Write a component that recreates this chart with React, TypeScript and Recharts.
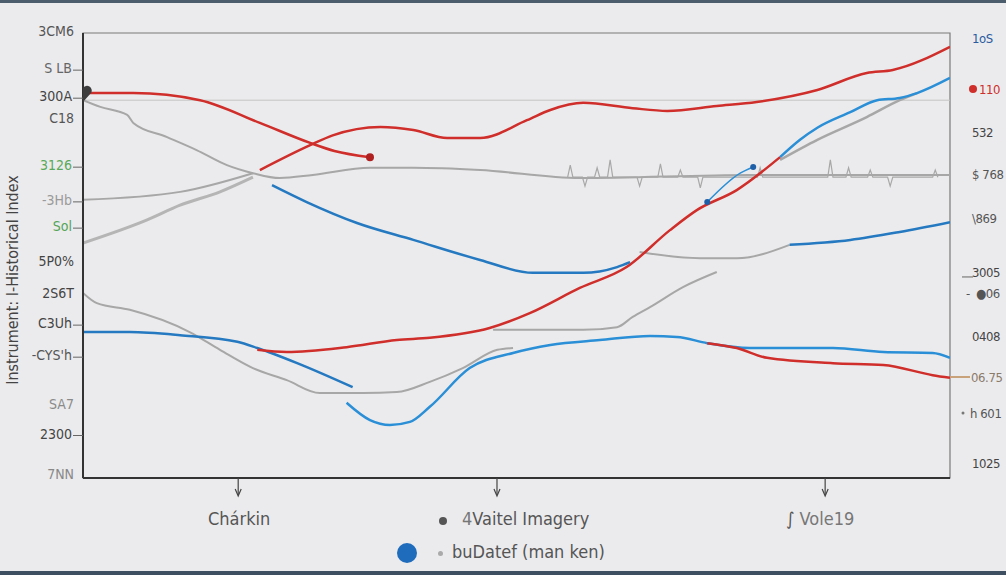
import React from 'react';
import { ComposedChart, Line, XAxis, YAxis, ReferenceArea, ReferenceLine } from 'recharts';

// ---- data (x: 0..100 along the time axis, y: 0..100 on both scales) ----
const redA = [
  { x: 0, y: 86.5 }, { x: 5.8, y: 86.5 }, { x: 13.5, y: 84.9 }, { x: 20.4, y: 79.8 },
  { x: 26.2, y: 75.3 }, { x: 29, y: 73.5 }, { x: 33.1, y: 72.1 },
];
const redB = [
  { x: 20.4, y: 69.2 }, { x: 26.2, y: 74.8 }, { x: 28.8, y: 77.0 }, { x: 34.3, y: 78.9 },
  { x: 38.1, y: 78.2 }, { x: 42.0, y: 76.4 }, { x: 45.8, y: 76.4 }, { x: 51.2, y: 80.4 },
  { x: 53.9, y: 82.7 }, { x: 57.7, y: 84.3 }, { x: 63.4, y: 83.1 }, { x: 67.4, y: 82.5 },
  { x: 73.1, y: 83.6 }, { x: 77.7, y: 84.5 }, { x: 84.7, y: 87.2 }, { x: 90.4, y: 91.0 },
  { x: 93.4, y: 91.7 }, { x: 100, y: 96.9 },
];
const redC = [
  { x: 20.1, y: 28.8 }, { x: 23.5, y: 28.3 }, { x: 30.4, y: 29.4 }, { x: 36.2, y: 31.0 },
  { x: 40.0, y: 31.5 }, { x: 46.9, y: 33.7 }, { x: 51.6, y: 37.1 }, { x: 57.3, y: 42.7 },
  { x: 62.7, y: 47.4 }, { x: 67.7, y: 55.7 }, { x: 70.8, y: 60.2 }, { x: 75.4, y: 64.7 },
  { x: 80.4, y: 72.1 },
];
const redD = [
  { x: 72.0, y: 30.3 }, { x: 75.4, y: 29.2 }, { x: 78.9, y: 27.0 }, { x: 86.5, y: 25.8 },
  { x: 92.3, y: 25.4 }, { x: 98.0, y: 23.1 }, { x: 100, y: 22.5 },
];
const blueA = [
  { x: 21.8, y: 65.8 }, { x: 25.8, y: 62.0 }, { x: 31.6, y: 57.3 }, { x: 38.1, y: 53.5 },
  { x: 45.8, y: 49.0 }, { x: 51.9, y: 46.1 }, { x: 57.7, y: 46.1 }, { x: 61.6, y: 47.4 },
  { x: 63.1, y: 48.5 },
];
const blueB = [
  { x: 80.4, y: 72.1 }, { x: 82.7, y: 76.0 }, { x: 84.7, y: 78.7 }, { x: 88.5, y: 82.2 },
  { x: 91.6, y: 84.9 }, { x: 94.2, y: 85.4 }, { x: 96.2, y: 86.5 }, { x: 100, y: 89.9 },
];
const blueSmall = [{ x: 72.0, y: 62.0 }, { x: 75.8, y: 68.5 }, { x: 77.3, y: 69.9 }];
const blueC = [{ x: 81.5, y: 52.4 }, { x: 88.5, y: 53.5 }, { x: 94.2, y: 55.3 }, { x: 100, y: 57.5 }];
const blueD1 = [
  { x: 0, y: 32.8 }, { x: 5.4, y: 32.8 }, { x: 11.2, y: 32.1 }, { x: 17.8, y: 30.6 },
  { x: 20.1, y: 29.2 }, { x: 24.7, y: 25.8 }, { x: 31.1, y: 20.4 },
];
const blueD2 = [
  { x: 30.4, y: 16.9 }, { x: 33.1, y: 13.0 }, { x: 35.4, y: 11.9 }, { x: 37.7, y: 12.6 },
  { x: 40.0, y: 16.0 }, { x: 44.6, y: 24.7 }, { x: 49.6, y: 28.1 }, { x: 53.9, y: 29.9 },
  { x: 59.6, y: 31.0 }, { x: 65.4, y: 31.9 }, { x: 68.5, y: 31.7 }, { x: 72.0, y: 30.3 },
  { x: 76.9, y: 29.2 }, { x: 86.5, y: 29.2 }, { x: 92.3, y: 28.3 }, { x: 98.0, y: 28.1 },
  { x: 100, y: 27.0 },
];
const grayA = [
  { x: 0, y: 84.9 }, { x: 2.0, y: 83.4 }, { x: 5.1, y: 81.6 }, { x: 5.8, y: 79.8 },
  { x: 9.7, y: 76.6 }, { x: 13.1, y: 73.7 }, { x: 16.6, y: 70.3 }, { x: 19.6, y: 68.5 },
  { x: 22.7, y: 67.4 }, { x: 26.5, y: 68.1 }, { x: 33.1, y: 69.7 }, { x: 38.1, y: 69.7 },
  { x: 45.8, y: 69.2 }, { x: 57.3, y: 67.4 }, { x: 76.9, y: 68.1 }, { x: 100, y: 68.1 },
];
const grayNoise = [
  { x: 55.9, y: 67.6 }, { x: 56.2, y: 70.3 }, { x: 56.5, y: 67.6 },
  { x: 57.6, y: 67.6 }, { x: 57.9, y: 65.6 }, { x: 58.2, y: 67.6 },
  { x: 59.0, y: 67.6 }, { x: 59.3, y: 69.7 }, { x: 59.6, y: 67.6 },
  { x: 60.5, y: 67.6 }, { x: 60.8, y: 71.5 }, { x: 61.1, y: 67.6 },
  { x: 63.9, y: 67.6 }, { x: 64.2, y: 65.6 }, { x: 64.5, y: 67.6 },
  { x: 66.3, y: 67.6 }, { x: 66.6, y: 70.6 }, { x: 66.9, y: 67.6 },
  { x: 68.6, y: 67.6 }, { x: 68.9, y: 69.2 }, { x: 69.2, y: 67.6 },
  { x: 70.9, y: 67.6 }, { x: 71.2, y: 65.2 }, { x: 71.5, y: 67.6 },
  { x: 77.8, y: 67.6 }, { x: 78.1, y: 69.7 }, { x: 78.4, y: 67.6 },
  { x: 85.9, y: 67.6 }, { x: 86.2, y: 71.5 }, { x: 86.5, y: 67.6 },
  { x: 88.0, y: 67.6 }, { x: 88.3, y: 69.7 }, { x: 88.6, y: 67.6 },
  { x: 90.5, y: 67.6 }, { x: 90.8, y: 69.2 }, { x: 91.1, y: 67.6 },
  { x: 92.8, y: 67.6 }, { x: 93.1, y: 65.6 }, { x: 93.4, y: 67.6 },
  { x: 98.0, y: 67.6 }, { x: 98.3, y: 69.2 }, { x: 98.6, y: 67.6 },
];
const grayB = [{ x: 0, y: 62.5 }, { x: 11.2, y: 64.3 }, { x: 19.6, y: 68.5 }];
const grayC = [
  { x: 0, y: 52.8 }, { x: 7.4, y: 58.0 }, { x: 11.2, y: 61.3 }, { x: 15.8, y: 64.3 }, { x: 19.6, y: 67.6 },
];
const grayD = [
  { x: 0, y: 41.6 }, { x: 1.6, y: 39.3 }, { x: 5.4, y: 37.8 }, { x: 12.3, y: 32.8 },
  { x: 15.8, y: 28.8 }, { x: 19.6, y: 24.7 }, { x: 23.5, y: 22.0 }, { x: 27.3, y: 19.1 },
  { x: 32.3, y: 19.1 }, { x: 36.2, y: 19.3 }, { x: 40.0, y: 21.6 }, { x: 43.8, y: 24.7 },
  { x: 47.8, y: 28.8 }, { x: 49.6, y: 29.2 },
];
const grayE = [
  { x: 47.3, y: 33.3 }, { x: 53.9, y: 33.3 }, { x: 57.7, y: 33.3 }, { x: 61.6, y: 33.9 },
  { x: 63.4, y: 36.2 }, { x: 65.4, y: 38.4 }, { x: 69.2, y: 42.9 }, { x: 73.1, y: 46.3 },
];
const grayF = [{ x: 64.2, y: 50.8 }, { x: 71.2, y: 49.4 }, { x: 75.4, y: 49.4 }, { x: 81.5, y: 52.4 }];
const grayG = [
  { x: 80.4, y: 71.5 }, { x: 84.7, y: 76.0 }, { x: 90.4, y: 81.1 }, { x: 94.2, y: 84.9 }, { x: 96.2, y: 86.5 },
];
const refLevel = 84.9;

const xTicks = [17.9, 47.75, 85.6];

const leftTickValues = [100.4, 92.1, 85.8, 80.9, 70.3, 62.5, 56.6, 48.7, 41.6, 34.8, 27.6, 16.6, 10.0, 0.9];
const leftTickLabels = ['3CM6', 'S LB', '300A', 'C18', '3126', '-3Hb', 'Sol', '5P0%', '2S6T', 'C3Uh', '-CYS\'h', 'SA7', '2300', '7NN'];

const rightTickValues = [98.9, 87.4, 77.8, 68.3, 58.4, 46.3, 41.6, 31.9, 22.7, 14.6, 3.4];
const rightTickLabels = ['1oS', '110', '532', '$ 768', '\\869', '3005', '-06', '0408', '06.75', 'h 601', '1025'];

const legendTop = ['Chárkin', 'Vaitel Imagery', 'Vole19'];
const legendBottom = ['buDatef (man ken)'];
const yTitle = 'Instrument: I-Historical Index';

// ---- styles ----
const FONT = "'DejaVu Sans Condensed','Liberation Sans Narrow','Roboto Condensed',sans-serif";
const RED = '#cf2e2a';
const BLUE = '#2479c0';
const LBLUE = '#2a8fd6';
const GRAY = '#a7a7a7';
const BG = '#ebebed';

const leftColors = ['#555', '#666', '#444', '#555', '#5aa95a', '#9a9a9a', '#55a455', '#444', '#444', '#444', '#555', '#8a8a8a', '#444', '#888'];
const leftHasLine = [false, true, true, false, true, true, true, false, false, true, true, false, true, false];
const rightColors = ['#2a5aa0', RED, '#444', '#555', '#555', '#444', '#555', '#444', '#8a7a6a', '#555', '#444'];

const LeftTick = (props: any) => {
  const { y, payload } = props;
  const i = leftTickValues.indexOf(payload.value);
  if (i < 0) return <g />;
  return (
    <g>
      <text x={leftHasLine[i] ? 72 : 74} y={y} dy={5} textAnchor="end" fill={leftColors[i]} fontSize={14} fontFamily={FONT}>
        {leftTickLabels[i]}
      </text>
      {leftHasLine[i] && <line x1={73} x2={83} y1={y + 2} y2={y + 2} stroke="#666" strokeWidth={1} />}
    </g>
  );
};

const RightTick = (props: any) => {
  const { y, payload } = props;
  const i = rightTickValues.indexOf(payload.value);
  if (i < 0) return <g />;
  const lbl = rightTickLabels[i];
  const tx = i === 1 ? 979 : i === 9 ? 970 : i === 8 ? 971 : i === 6 ? 976 : 972;
  return (
    <g>
      {i === 1 && <circle cx={973} cy={y} r={4} fill={RED} />}
      {i === 5 && <line x1={962} x2={973} y1={y + 5} y2={y + 5} stroke="#666" />}
      {i === 6 && <text x={966} y={y} dy={5} fill="#555" fontSize={13} fontFamily={FONT}>-</text>}
      {i === 8 && <line x1={950} x2={970} y1={y} y2={y} stroke="#c8a27a" strokeWidth={2} />}
      {i === 9 && <circle cx={963} cy={y} r={1.5} fill="#777" />}
      <text x={tx} y={y} dy={5} textAnchor="start" fill={rightColors[i]} fontSize={13} letterSpacing={-0.4} fontFamily={FONT}>
        {i === 6 ? '\u25CF' + lbl.replace('-', '') : lbl}
      </text>
    </g>
  );
};

const XTick = (props: any) => {
  const { x, y } = props;
  return (
    <g>
      <line x1={x} x2={x} y1={y} y2={y + 17} stroke="#444" strokeWidth={1.2} />
      <path d={`M${x - 3},${y + 11} L${x},${y + 18} L${x + 3},${y + 11}`} fill="none" stroke="#444" strokeWidth={1.2} />
    </g>
  );
};

const heartDot = (props: any) => {
  const { cx, cy, index } = props;
  if (index === 0) {
    return (
      <path key="h" d={`M${cx},${cy + 9} L${cx - 8},${cy} A4.5,4.5 0 0 1 ${cx},${cy - 5} A4.5,4.5 0 0 1 ${cx + 8},${cy} Z`} fill="#3d3d3d" />
    );
  }
  if (index === redA.length - 1) return <circle key="e" cx={cx} cy={cy} r={4} fill="#b02020" />;
  return <g key={'n' + index} />;
};

const smallBlueDot = (props: any) => {
  const { cx, cy, index } = props;
  if (index === 0 || index === 2) return <circle key={'b' + index} cx={cx} cy={cy} r={3} fill="#1f5fa8" />;
  return <g key={'n' + index} />;
};

const line = (data: any[], color: string, w: number, key: string, dot: any = false, axis = 'left', curve: any = 'monotone') => (
  <Line key={key} data={data} dataKey="y" yAxisId={axis} type={curve} stroke={color} strokeWidth={w}
    dot={dot} activeDot={false} isAnimationActive={false} connectNulls={false} />
);

export default function App() {
  return (
    <div style={{ position: 'absolute', left: 0, top: 0, width: 1006, height: 575, background: BG, overflow: 'hidden' }}>
      <div style={{ position: 'absolute', left: 0, top: 0, width: 1006, height: 3, background: '#4c5d6e' }} />
      <div style={{ position: 'absolute', left: 0, bottom: 0, width: 1006, height: 4, background: '#3e4f62' }} />
      <ComposedChart width={1006} height={575} margin={{ top: 33, right: 0, bottom: 0, left: 0 }}>
        <XAxis dataKey="x" type="number" domain={[0, 100]} ticks={xTicks} interval={0} height={97}
          allowDataOverflow axisLine={{ stroke: '#333', strokeWidth: 2 }} tickLine={false} tickSize={0} tickMargin={0} tick={<XTick />} />
        <YAxis yAxisId="left" type="number" domain={[0, 100]} ticks={leftTickValues} interval={0} width={83}
          allowDataOverflow axisLine={{ stroke: '#333', strokeWidth: 2 }} tickLine={false} tickSize={0} tickMargin={0} tick={<LeftTick />}
          label={{
            content: () => (
              <text transform="translate(18,280) rotate(-90)" textAnchor="middle" fill="#444" fontSize={16} fontFamily={FONT}>
                {yTitle}
              </text>
            ),
          }} />
        <YAxis yAxisId="right" orientation="right" type="number" domain={[0, 100]} ticks={rightTickValues} interval={0} width={56}
          allowDataOverflow axisLine={false} tickLine={false} tickSize={0} tickMargin={0} tick={<RightTick />} />
        <ReferenceArea yAxisId="left" x1={0} x2={100} y1={0} y2={100} fill="none" stroke="#7a7a7a" strokeWidth={1.2} ifOverflow="visible" />
        <ReferenceLine yAxisId="left" y={refLevel} stroke="#c4c4c4" strokeWidth={1} />
        {line(grayB, GRAY, 2, 'gb')}
        {line(grayC, '#b5b5b5', 3, 'gc')}
        {line(grayA, GRAY, 2, 'ga')}
        {line(grayNoise, '#a8a8a8', 1.2, 'gn', false, 'left', 'linear')}
        {line(grayD, GRAY, 2, 'gd')}
        {line(grayE, GRAY, 2, 'ge')}
        {line(grayF, GRAY, 2, 'gf')}
        {line(grayG, GRAY, 2.5, 'gg')}
        {line(blueA, BLUE, 2.5, 'ba')}
        {line(blueB, LBLUE, 2.5, 'bb')}
        {line(blueSmall, LBLUE, 1.5, 'bs', smallBlueDot)}
        {line(blueC, BLUE, 2.5, 'bc', false, 'right')}
        {line(blueD1, BLUE, 2.5, 'bd1')}
        {line(blueD2, LBLUE, 2.5, 'bd2')}
        {line(redA, RED, 2.5, 'ra', heartDot)}
        {line(redB, RED, 2.5, 'rb')}
        {line(redC, RED, 2.5, 'rc')}
        {line(redD, RED, 2.5, 'rd', false, 'right')}
      </ComposedChart>
      <div style={{ position: 'absolute', left: 0, top: 0, width: 1006, height: 575, fontFamily: FONT, color: '#555', pointerEvents: 'none' }}>
        <div style={{ position: 'absolute', left: 208, top: 508, fontSize: 18 }}>{legendTop[0]}</div>
        <div style={{ position: 'absolute', left: 439, top: 517, width: 8, height: 8, borderRadius: 4, background: '#555' }} />
        <div style={{ position: 'absolute', left: 462, top: 508, fontSize: 18 }}>
          <span style={{ color: '#777' }}>4</span>{legendTop[1]}
        </div>
        <div style={{ position: 'absolute', left: 786, top: 508, fontSize: 18, color: '#777' }}>
          <span style={{ color: '#555' }}>∫</span> {legendTop[2]}
        </div>
        <div style={{ position: 'absolute', left: 397, top: 543, width: 20, height: 20, borderRadius: 10, background: '#1f6cbd' }} />
        <div style={{ position: 'absolute', left: 438, top: 551, width: 5, height: 5, borderRadius: 3, background: '#aaa' }} />
        <div style={{ position: 'absolute', left: 452, top: 541, fontSize: 18 }}>{legendBottom[0]}</div>
      </div>
    </div>
  );
}
